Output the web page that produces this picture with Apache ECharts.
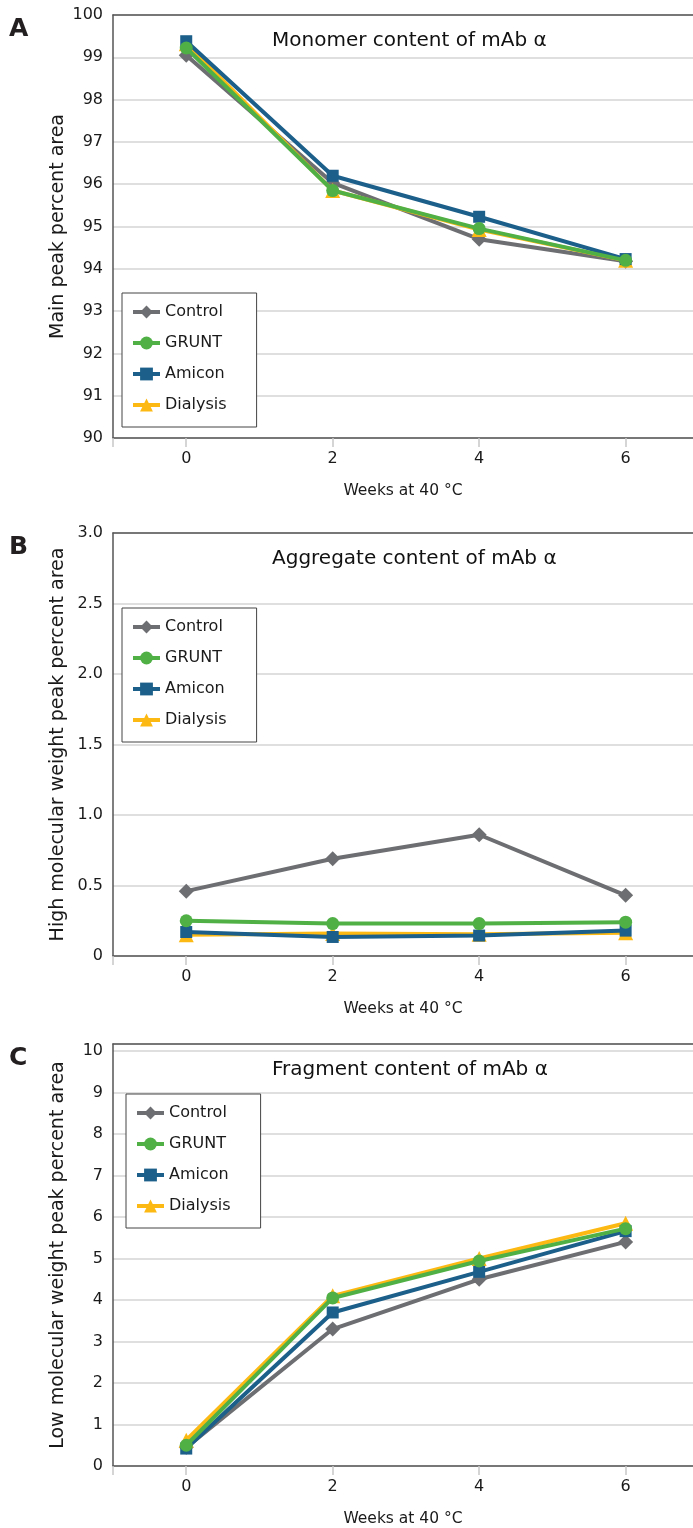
<!DOCTYPE html>
<html>
<head>
<meta charset="utf-8">
<script src="https://cdn.jsdelivr.net/npm/echarts@6/dist/echarts.min.js"></script>
<style>html,body{margin:0;padding:0;background:#fff}#c{width:693px;height:1528px}</style>
</head>
<body>
<div id="c"></div>
<script>
// ---- data ----
const weeks = [0, 2, 4, 6];
const seriesNames = ['Control', 'GRUNT', 'Amicon', 'Dialysis'];
const xTickLabels = [0, 2, 4, 6];

// Panel A: monomer (main peak %)
const monoControl  = [99.05, 96.03, 94.70, 94.18];
const monoGrunt    = [99.22, 95.85, 94.95, 94.20];
const monoAmicon   = [99.38, 96.20, 95.23, 94.23];
const monoDialysis = [99.32, 95.85, 94.93, 94.20];

// Panel B: aggregate (HMW peak %)
const aggControl  = [0.46, 0.69, 0.86, 0.43];
const aggGrunt    = [0.25, 0.23, 0.23, 0.24];
const aggAmicon   = [0.17, 0.135, 0.145, 0.18];
const aggDialysis = [0.15, 0.16, 0.155, 0.165];

// Panel C: fragment (LMW peak %)
const fragControl  = [0.45, 3.30, 4.50, 5.40];
const fragGrunt    = [0.50, 4.05, 4.94, 5.72];
const fragAmicon   = [0.42, 3.70, 4.68, 5.66];
const fragDialysis = [0.62, 4.10, 5.00, 5.85];

const yTicksA = [90, 91, 92, 93, 94, 95, 96, 97, 98, 99, 100];
const yTicksB = [0, 0.5, 1.0, 1.5, 2.0, 2.5, 3.0];
const yTicksC = [0, 1, 2, 3, 4, 5, 6, 7, 8, 9, 10];

const panelTitles = ['Monomer content of mAb α', 'Aggregate content of mAb α', 'Fragment content of mAb α'];
const panelLetters = ['A', 'B', 'C'];
const yNames = ['Main peak percent area', 'High molecular weight peak percent area', 'Low molecular weight peak percent area'];
const xName = 'Weeks at 40 °C';

// ---- styles ----
const FONT = 'DejaVu Sans';
const colors = {Control: '#6d6e71', GRUNT: '#50b046', Amicon: '#1b5f8a', Dialysis: '#fdb913'};
const symbols = {Control: 'diamond', GRUNT: 'circle', Amicon: 'rect', Dialysis: 'triangle'};
const symSizes = {Control: 15, GRUNT: 13, Amicon: 12, Dialysis: 15};
const drawOrder = {Control: 1, Dialysis: 2, Amicon: 3, GRUNT: 4};

const gridTops = [15, 533, 1044];
const gridH = [423, 423, 423];
const yCfg = [
  {min: 90, max: 100, interval: 1, ticks: yTicksA, fmt: v => String(v)},
  {min: 0, max: 3, interval: 0.5, ticks: yTicksB, fmt: v => v === 0 ? '0' : v.toFixed(1)},
  {min: 0, max: 10.17, interval: 1, ticks: yTicksC, fmt: v => String(v)}
];
const legendPos = [{left: 122, top: 293}, {left: 122, top: 608}, {left: 126, top: 1094}];

const panelData = [
  {Control: monoControl, GRUNT: monoGrunt, Amicon: monoAmicon, Dialysis: monoDialysis},
  {Control: aggControl, GRUNT: aggGrunt, Amicon: aggAmicon, Dialysis: aggDialysis},
  {Control: fragControl, GRUNT: fragGrunt, Amicon: fragAmicon, Dialysis: fragDialysis}
];

const grids = [], xAxes = [], yAxes = [], series = [], legends = [], graphics = [];
for (let p = 0; p < 3; p++) {
  grids.push({left: 113, top: gridTops[p], right: 0, height: gridH[p], show: false});
  // bottom axis
  xAxes.push({type: 'value', gridIndex: p, min: -1, max: 6.92, position: 'bottom',
    name: xName, nameLocation: 'middle', nameGap: 45, nameMoveOverlap: false,
    nameTextStyle: {fontFamily: FONT, fontSize: 15.5, color: '#1a1a1a'},
    axisLine: {show: true, onZero: false, lineStyle: {color: '#555', width: 1.5}},
    axisTick: {show: true, customValues: [-1, 0, 2, 4, 6], length: 9, lineStyle: {color: '#c8c8c8', width: 1.5}},
    axisLabel: {customValues: xTickLabels, margin: 13, fontFamily: FONT, fontSize: 16, color: '#1a1a1a'},
    splitLine: {show: false}});
  // top border axis
  xAxes.push({type: 'value', gridIndex: p, min: -1, max: 6.92, position: 'top',
    axisLine: {show: true, onZero: false, lineStyle: {color: '#555', width: 1.5}},
    axisTick: {show: false}, axisLabel: {show: false}, splitLine: {show: false}});
  yAxes.push({type: 'value', gridIndex: p, min: yCfg[p].min, max: yCfg[p].max, interval: yCfg[p].interval,
    name: yNames[p], nameLocation: 'middle', nameRotate: 90, nameGap: 45, nameMoveOverlap: false,
    nameTextStyle: {fontFamily: FONT, fontSize: 19, color: '#1a1a1a'},
    axisLine: {show: true, onZero: false, lineStyle: {color: '#555', width: 1.5}},
    axisTick: {show: false},
    axisLabel: {customValues: yCfg[p].ticks, formatter: yCfg[p].fmt, margin: 10, fontFamily: FONT, fontSize: 16, color: '#1a1a1a'},
    splitLine: {show: true, lineStyle: {color: '#d4d4d4', width: 1.5}}});
  seriesNames.forEach(n => {
    series.push({type: 'line', name: n, xAxisIndex: 2 * p, yAxisIndex: p,
      data: weeks.map((w, i) => [w, panelData[p][n][i]]),
      symbol: symbols[n], symbolSize: symSizes[n], z: drawOrder[n],
      lineStyle: {color: colors[n], width: 4}, itemStyle: {color: colors[n]},
      emphasis: {disabled: true}, animation: false});
  });
  legends.push({show: true, orient: 'vertical', left: legendPos[p].left, top: legendPos[p].top,
    data: seriesNames, borderColor: '#444', borderWidth: 1, backgroundColor: '#fff',
    padding: [11, 30, 14, 9], itemGap: 15, itemWidth: 27, itemHeight: 16,
    lineStyle: {width: 4},
    textStyle: {fontFamily: FONT, fontSize: 16, lineHeight: 16, color: '#1a1a1a'}});
  graphics.push({type: 'text', x: 272, y: gridTops[p] + 26,
    style: {text: panelTitles[p], fontFamily: FONT, fontSize: 20, fill: '#111', align: 'left', verticalAlign: 'middle'}});
  graphics.push({type: 'text', x: 9, y: gridTops[p] + 14,
    style: {text: panelLetters[p], fontFamily: FONT, fontSize: 25, fontWeight: 'bold', fill: '#231f20', align: 'left', verticalAlign: 'middle'}});
}

const chart = echarts.init(document.getElementById('c'), null, {renderer: 'canvas'});
chart.setOption({
  animation: false,
  backgroundColor: '#fff',
  grid: grids, xAxis: xAxes, yAxis: yAxes, series: series, legend: legends,
  graphic: graphics
});
</script>
</body>
</html>
